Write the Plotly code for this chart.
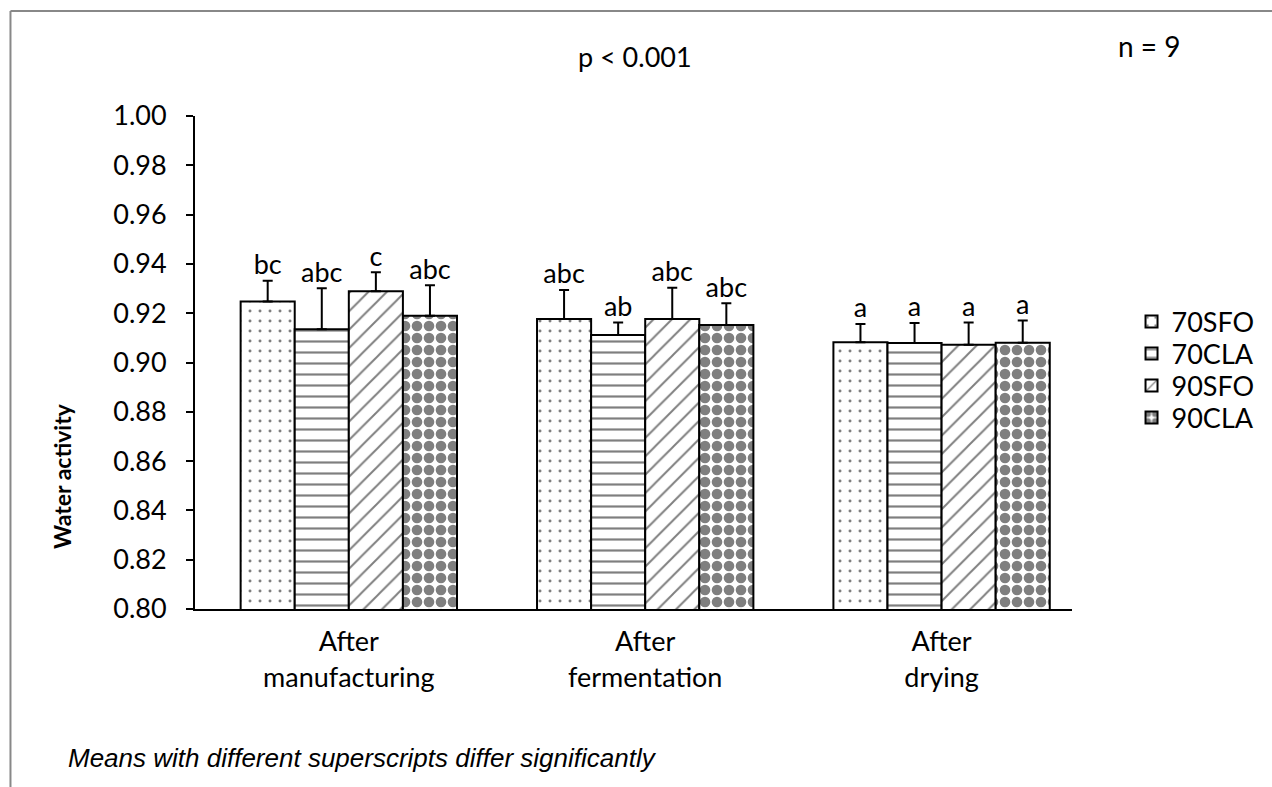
import plotly.graph_objects as go

categories = ["After<br>manufacturing", "After<br>fermentation", "After<br>drying"]
series_names = ["70SFO", "70CLA", "90SFO", "90CLA"]

means_70SFO = [0.9247, 0.9176, 0.9082]
means_70CLA = [0.9135, 0.9112, 0.9079]
means_90SFO = [0.9289, 0.9176, 0.9072]
means_90CLA = [0.9190, 0.9152, 0.9080]

err_70SFO = [0.0085, 0.0118, 0.0074]
err_70CLA = [0.0166, 0.0050, 0.0081]
err_90SFO = [0.0077, 0.0127, 0.0090]
err_90CLA = [0.0123, 0.0088, 0.0090]

letters_70SFO = ["bc", "abc", "a"]
letters_70CLA = ["abc", "ab", "a"]
letters_90SFO = ["c", "abc", "a"]
letters_90CLA = ["abc", "abc", "a"]

y_ticks = [0.80, 0.82, 0.84, 0.86, 0.88, 0.90, 0.92, 0.94, 0.96, 0.98, 1.00]

means = [means_70SFO, means_70CLA, means_90SFO, means_90CLA]
errs = [err_70SFO, err_70CLA, err_90SFO, err_90CLA]
letters = [letters_70SFO, letters_70CLA, letters_90SFO, letters_90CLA]

patterns = [
    dict(shape=".", size=10, solidity=0.07, fgcolor="black", bgcolor="white"),
    dict(shape="-", size=11, solidity=0.2, fgcolor="black", bgcolor="white"),
    dict(shape="/", size=13, solidity=0.15, fgcolor="black", bgcolor="white"),
    dict(shape=".", size=12, solidity=0.62, fgcolor="black", bgcolor="white"),
]

FONT = "Lato"
W, H = 1272, 787
L, R, T, B = 195, 193, 116, 178
pw, ph = W - L - R, H - T - B


def px(x):
    return (x - L) / pw


def py(y):
    return (H - B - y) / ph


legend_ids = ["legend", "legend2", "legend3", "legend4"]
legend_rows = [322, 354, 386, 418]

fig = go.Figure()

for name, m, e, p, lid in zip(series_names, means, errs, patterns, legend_ids):
    fig.add_trace(go.Bar(
        x=categories, y=m, name=name, offsetgroup=name, legend=lid,
        marker=dict(color="white", line=dict(color="black", width=2), pattern=p),
        error_y=dict(type="data", array=e, arrayminus=[0] * len(e), symmetric=False,
                     color="black", thickness=2, width=5),
    ))

for name, m, e, l in zip(series_names, means, errs, letters):
    fig.add_trace(go.Scatter(
        x=categories, y=[a + b for a, b in zip(m, e)], text=l, mode="text",
        textposition="top center", offsetgroup=name, showlegend=False,
        textfont=dict(family=FONT, size=27, color="black"), hoverinfo="skip",
    ))

legend_layout = {}
for lid, row in zip(legend_ids, legend_rows):
    legend_layout[lid] = dict(
        x=px(1139), y=py(row), xanchor="left", yanchor="middle",
        font=dict(family=FONT, size=27, color="black"),
        bgcolor="rgba(0,0,0,0)", itemwidth=30,
    )

fig.update_layout(
    width=W, height=H,
    margin=dict(l=L, r=R, t=T, b=B, pad=0),
    paper_bgcolor="white", plot_bgcolor="white",
    barmode="group", bargap=0.27, bargroupgap=0,
    scattermode="group", scattergap=0.27,
    font=dict(family=FONT, size=27, color="black"),
    showlegend=True,
    xaxis=dict(showline=True, linecolor="black", linewidth=2, ticks="",
               range=[-0.519, 2.440],
               showgrid=False, tickfont=dict(family=FONT, size=27),
               ticklabelstandoff=8),
    yaxis=dict(range=[0.80, 1.00], tickvals=y_ticks, tickformat=".2f",
               showline=True, linecolor="black", linewidth=2, ticks="outside",
               ticklen=7, tickwidth=2, tickcolor="black", showgrid=False,
               zeroline=False, tickfont=dict(family=FONT, size=27),
               ticklabelstandoff=14),
    shapes=[
        dict(type="line", xref="paper", yref="paper", x0=px(9), x1=px(9),
             y0=py(11), y1=py(800), line=dict(color="#888888", width=2)),
        dict(type="line", xref="paper", yref="paper", x0=px(9), x1=px(1290),
             y0=py(11), y1=py(11), line=dict(color="#888888", width=2)),
    ],
    annotations=[
        dict(text="Water activity", textangle=-90, xref="paper", yref="paper",
             x=px(61), y=py(476), showarrow=False, xanchor="center", yanchor="middle",
             font=dict(family=FONT, size=23, color="black", weight="bold")),
        dict(text="p < 0.001", xref="paper", yref="paper", x=px(639), y=py(57),
             showarrow=False, xanchor="center", yanchor="middle",
             font=dict(family=FONT, size=27, color="black")),
        dict(text="n = 9", xref="paper", yref="paper", x=px(1157), y=py(46),
             showarrow=False, xanchor="center", yanchor="middle",
             font=dict(family=FONT, size=28, color="black")),
        dict(text="<i>Means with different superscripts differ significantly</i>",
             xref="paper", yref="paper", x=px(65), y=py(758), showarrow=False,
             xanchor="left", yanchor="middle",
             font=dict(family="Liberation Sans", size=26, color="black")),
    ],
    **legend_layout,
)

fig.write_html("out.html")
